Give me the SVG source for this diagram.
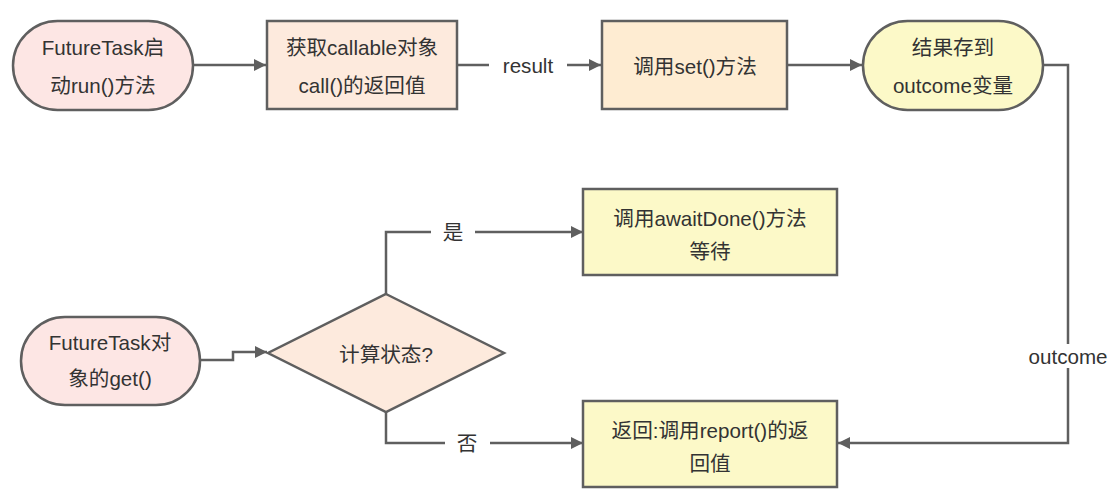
<svg xmlns="http://www.w3.org/2000/svg" width="1118" height="502" viewBox="0 0 1118 502">
  <style>
    text { font-family: "Liberation Sans", "Noto Sans CJK SC", sans-serif; font-size: 20.6px; fill: #333333; text-anchor: middle; dominant-baseline: central; }
    .node { stroke: #5f5f5f; stroke-width: 2.5; }
    .pink { fill: #fde6e4; }
    .peach { fill: #fdeadd; }
    .orange { fill: #feecd2; }
    .yellow { fill: #fcf9c8; }
    .conn { fill: none; stroke: #5f5f5f; stroke-width: 2.5; }
    .lblbg { fill: #ffffff; }
  </style>
  <defs>
    <marker id="arrow" viewBox="0 0 10 10" refX="10" refY="5" markerWidth="12" markerHeight="12" markerUnits="userSpaceOnUse" orient="auto">
      <path d="M0,0 L10,5 L0,10 z" fill="#5f5f5f"/>
    </marker>
  </defs>
  <rect width="1118" height="502" fill="#ffffff"/>

  <g id="connectors">
    <path class="conn" d="M193,65 H266" marker-end="url(#arrow)"/>
    <path class="conn" d="M457,65 H601" marker-end="url(#arrow)"/>
    <path class="conn" d="M787,65 H862" marker-end="url(#arrow)"/>
    <path class="conn" d="M1043,65 H1068 V443 H838" marker-end="url(#arrow)"/>
    <path class="conn" d="M200,360 H233 V352 H267" marker-end="url(#arrow)"/>
    <path class="conn" d="M386,294 V232 H583" marker-end="url(#arrow)"/>
    <path class="conn" d="M386,412 V443 H583" marker-end="url(#arrow)"/>
    <rect class="lblbg" x="489" y="50" width="78" height="30"/>
    <text x="528" y="65">result</text>
    <rect class="lblbg" x="431" y="217" width="44" height="30"/>
    <text x="453" y="232">是</text>
    <rect class="lblbg" x="445" y="428" width="45" height="30"/>
    <text x="467" y="443">否</text>
    <rect class="lblbg" x="1020" y="344" width="96" height="24"/>
    <text x="1068" y="356">outcome</text>
  </g>

  <g id="n1">
    <rect class="node pink" x="13" y="21" width="180" height="89" rx="44.5" ry="44.5"/>
    <text x="103" y="47">FutureTask启</text>
    <text x="103" y="85">动run()方法</text>
  </g>
  <g id="n2">
    <rect class="node peach" x="267" y="21" width="190" height="88"/>
    <text x="362" y="47">获取callable对象</text>
    <text x="362" y="85">call()的返回值</text>
  </g>
  <g id="n3">
    <rect class="node orange" x="602" y="21" width="185" height="88"/>
    <text x="695" y="66">调用set()方法</text>
  </g>
  <g id="n4">
    <rect class="node yellow" x="863" y="21" width="180" height="89" rx="44.5" ry="44.5"/>
    <text x="953" y="47">结果存到</text>
    <text x="953" y="85">outcome变量</text>
  </g>
  <g id="n5">
    <rect class="node pink" x="21" y="317" width="179" height="88" rx="44" ry="44"/>
    <text x="110" y="342">FutureTask对</text>
    <text x="110" y="378">象的get()</text>
  </g>
  <g id="n6">
    <polygon class="node peach" points="386,294 504,353 386,412 268,353"/>
    <text x="386" y="354">计算状态?</text>
  </g>
  <g id="n7">
    <rect class="node yellow" x="583" y="189" width="254" height="86"/>
    <text x="710" y="218">调用awaitDone()方法</text>
    <text x="710" y="251">等待</text>
  </g>
  <g id="n8">
    <rect class="node yellow" x="583" y="401" width="254" height="86"/>
    <text x="710" y="430">返回:调用report()的返</text>
    <text x="710" y="463">回值</text>
  </g>
</svg>
